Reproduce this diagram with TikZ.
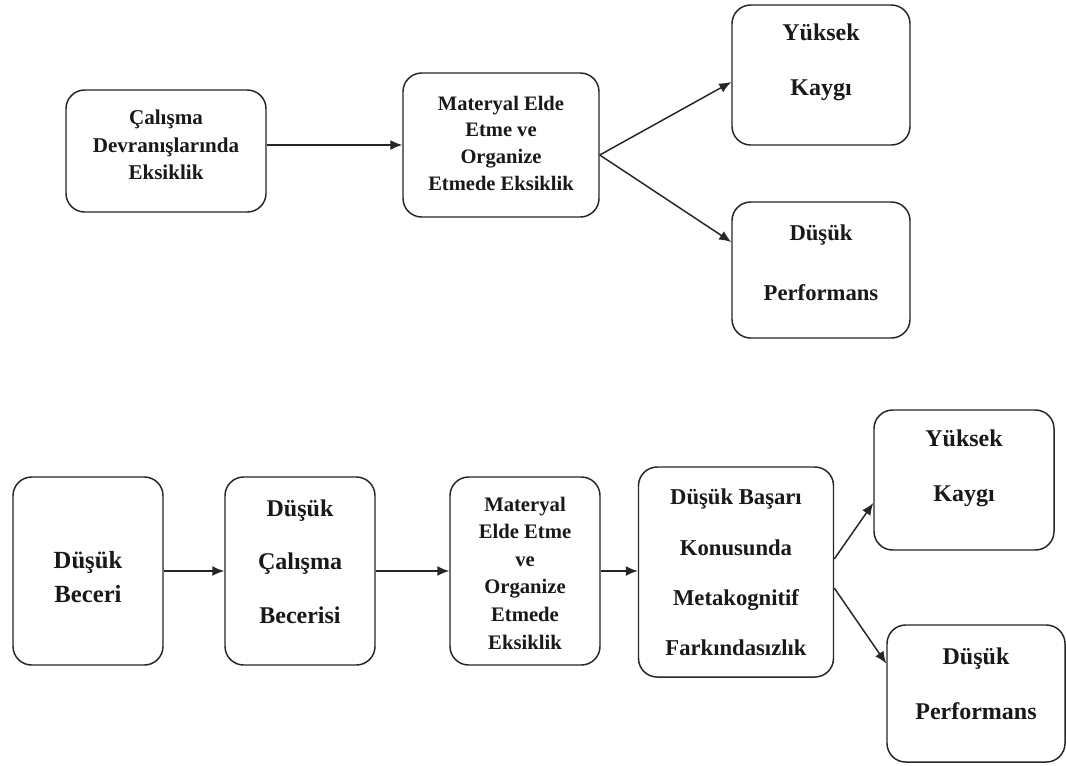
\documentclass[tikz,border=0pt]{standalone}
\usepackage{fontspec}
\setmainfont{Liberation Serif}
\usetikzlibrary{arrows.meta,calc}
\begin{document}
\begin{tikzpicture}[x=0.75pt,y=-0.75pt,
  box/.style={draw=black!85, line width=1.1pt, rounded corners=14pt, inner sep=0pt, fill=white},
  lbl/.style={align=center, text=black!90, inner sep=0pt},
  arr/.style={draw=black!85, line width=1.1pt, -{Latex[length=9pt,width=7.5pt]}}]
\useasboundingbox (0,0) rectangle (1066,765);
\fill[white] (0,0) rectangle (1066,765);
% top row
\node[box, minimum width=150pt, minimum height=91.5pt] (A) at (166,151) {};
\node[box, minimum width=147pt, minimum height=108pt] (B) at (501,145) {};
\node[box, minimum width=133.5pt, minimum height=105pt] (C) at (821,75) {};
\node[box, minimum width=133.5pt, minimum height=102pt] (D) at (821,270) {};
\node[lbl, font=\bfseries\fontsize{15.8}{20.6}\selectfont] (tA) at (166,145) {Çalışma\\Devranışlarında\\Eksiklik};
\node[lbl, font=\bfseries\fontsize{15.4}{20}\selectfont] (tB) at (501,143) {Materyal Elde\\Etme ve\\Organize\\Etmede Eksiklik};
\node[lbl, font=\bfseries\fontsize{18}{41}\selectfont] (tC) at (821,62) {Yüksek\\Kaygı};
\node[lbl, font=\bfseries\fontsize{17}{45}\selectfont] (tD) at (821,263) {Düşük\\Performans};
% bottom row
\node[box, minimum width=112.5pt, minimum height=141pt] (E) at (88,571) {};
\node[box, minimum width=112.5pt, minimum height=141pt] (F) at (300,571) {};
\node[box, minimum width=112.5pt, minimum height=141pt] (G) at (525,571) {};
\node[box, minimum width=146.25pt, minimum height=157.5pt] (H) at (736,572) {};
\node[box, minimum width=135pt, minimum height=105pt] (I) at (964,480) {};
\node[box, minimum width=133.5pt, minimum height=102.75pt] (J) at (976,693.5) {};
\node[lbl, font=\bfseries\fontsize{18.5}{25}\selectfont] (tE) at (88,577) {Düşük\\Beceri};
\node[lbl, font=\bfseries\fontsize{18}{40}\selectfont] (tF) at (300,561.5) {Düşük\\Çalışma\\Becerisi};
\node[lbl, font=\bfseries\fontsize{15.5}{20.7}\selectfont] (tG) at (525,573) {Materyal\\Elde Etme\\ve\\Organize\\Etmede\\Eksiklik};
\node[lbl, font=\bfseries\fontsize{17}{37.7}\selectfont] (tH) at (736,572.5) {Düşük Başarı\\Konusunda\\Metakognitif\\Farkındasızlık};
\node[lbl, font=\bfseries\fontsize{18}{41}\selectfont] (tI) at (964,468.5) {Yüksek\\Kaygı};
\node[lbl, font=\bfseries\fontsize{18}{41}\selectfont] (tJ) at (976,683.5) {Düşük\\Performans};
% connectors
\draw[arr] (A.east |- B.west) -- (B.west);
\draw[arr] ($(B.east)+(0,10)$) -- ($(C.west)+(0,7)$);
\draw[arr] ($(B.east)+(0,10)$) -- ($(D.west)+(0,-28)$);
\draw[arr] (E.east |- G.west) -- (F.west |- G.west);
\draw[arr] (F.east |- G.west) -- (G.west);
\draw[arr] (G.east) -- (H.west |- G.east);
\draw[arr] ($(H.east)+(0,-13)$) -- ($(I.west)+(0,23)$);
\draw[arr] ($(H.east)+(0,16)$) -- ($(J.west)+(0,-30)$);
\end{tikzpicture}
\end{document}
